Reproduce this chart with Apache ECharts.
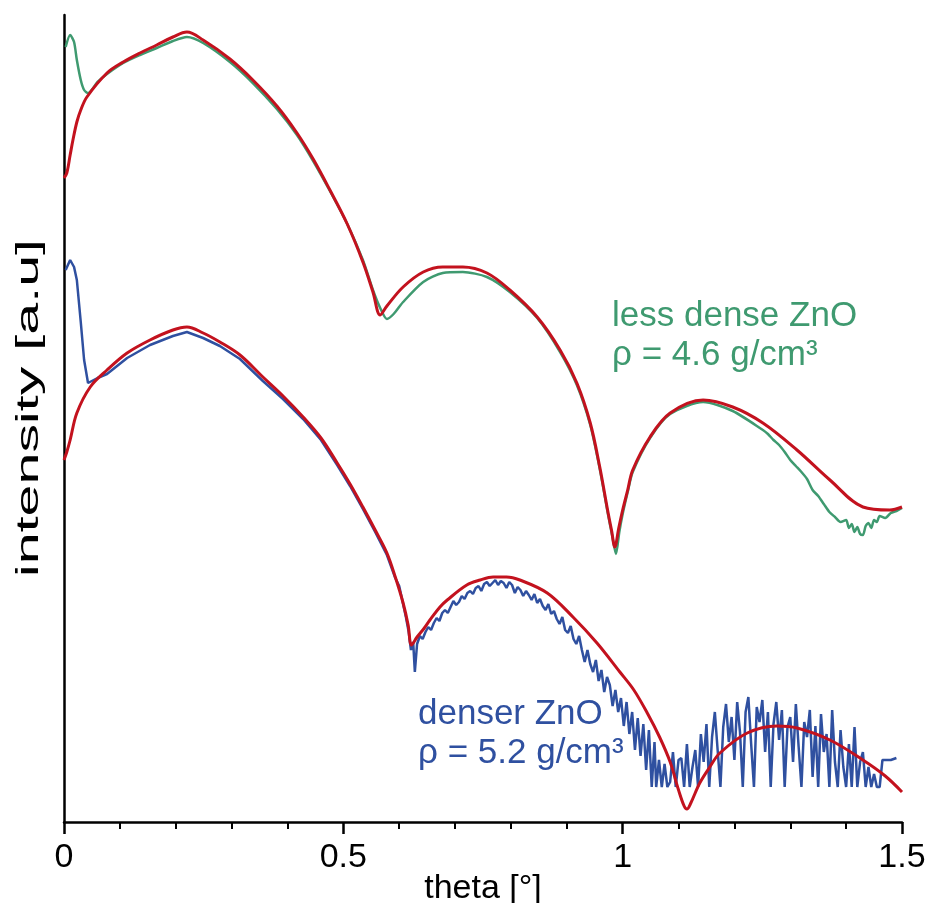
<!DOCTYPE html>
<html>
<head>
<meta charset="utf-8">
<title>ZnO reflectivity</title>
<script src="https://cdn.jsdelivr.net/npm/echarts@6/dist/echarts.min.js"></script>
<style>
  html, body { margin: 0; padding: 0; background: #fff; }
  #container { width: 927px; height: 903px; }
</style>
</head>
<body>
<div id="container"></div>
<script>
// less dense ZnO - measured (green)
var lessDenseTheta = [0.003, 0.011, 0.018, 0.023, 0.030, 0.036, 0.043, 0.060, 0.077, 0.106, 0.136, 0.166, 0.195, 0.220, 0.249, 0.297, 0.338, 0.381, 0.417, 0.446, 0.476, 0.507, 0.535, 0.553, 0.566, 0.578, 0.590, 0.607, 0.643, 0.678, 0.714, 0.757, 0.798, 0.847, 0.888, 0.918, 0.942, 0.959, 0.974, 0.981, 0.988, 0.994, 1.000, 1.009, 1.018, 1.049, 1.085, 1.144, 1.197, 1.251, 1.260, 1.270, 1.280, 1.290, 1.300, 1.310, 1.320, 1.330, 1.340, 1.350, 1.360, 1.370, 1.380, 1.390, 1.400, 1.405, 1.410, 1.415, 1.420, 1.425, 1.430, 1.435, 1.440, 1.445, 1.450, 1.455, 1.460, 1.470, 1.480, 1.490, 1.500];
var lessDenseMeas = [775, 787, 780, 762, 742, 732, 729, 740, 748, 759, 767, 774, 781, 785, 779, 760, 739, 713, 687, 661, 631, 598, 562, 532, 514, 503, 508, 520, 540, 549, 550, 545, 530, 504, 470, 437, 397, 353, 307, 287, 268, 290, 308, 330, 350, 384, 408, 420, 411, 392, 388, 382, 377, 370, 362, 356, 350, 343, 332, 326, 318, 310, 305, 300, 302, 294, 298, 290, 295, 288, 287, 296, 299, 294, 302, 300, 306, 304, 309, 311, 314];
// less dense ZnO - fit (red)
var lessDenseFitTheta = [0, 0.005, 0.011, 0.016, 0.023, 0.030, 0.041, 0.077, 0.106, 0.136, 0.166, 0.195, 0.220, 0.249, 0.297, 0.338, 0.381, 0.417, 0.446, 0.476, 0.507, 0.535, 0.553, 0.566, 0.578, 0.607, 0.643, 0.678, 0.714, 0.757, 0.798, 0.847, 0.888, 0.918, 0.942, 0.959, 0.974, 0.980, 0.986, 0.993, 1.000, 1.009, 1.018, 1.049, 1.085, 1.144, 1.197, 1.251, 1.312, 1.371, 1.430, 1.478, 1.500];
var lessDenseFit = [644, 649, 667, 682, 700, 712, 725, 749, 760, 769, 777, 785, 790, 782, 763, 742, 716, 689, 663, 632, 598, 560, 530, 507, 516, 535, 550, 555, 555, 549, 532, 505, 472, 439, 399, 355, 309, 292, 275, 294, 312, 332, 352, 385, 409, 422, 415, 399, 372, 342, 315, 312, 315];

// denser ZnO - measured (blue), smooth part
var denseTheta = [0.003, 0.011, 0.018, 0.023, 0.030, 0.036, 0.043, 0.060, 0.077, 0.113, 0.154, 0.195, 0.220, 0.249, 0.279, 0.315, 0.356, 0.392, 0.428, 0.460, 0.489, 0.512, 0.535, 0.557, 0.578, 0.593, 0.600, 0.607, 0.612, 0.617, 0.621, 0.625, 0.628];
var denseMeas = [552, 562, 555, 542, 500, 462, 439, 444, 448, 464, 477, 486, 490, 484, 476, 463, 441, 423, 403, 382, 357, 336, 313, 290, 267, 244, 236, 218, 205, 190, 172, 180, 150];
// denser ZnO - measured (blue), noisy part
var denseNoiseTheta = [
  0.632, 0.637, 0.642, 0.647, 0.652, 0.657, 0.662, 0.667, 0.672, 0.677,
  0.682, 0.687, 0.692, 0.697, 0.702, 0.707, 0.712, 0.717, 0.722, 0.727,
  0.732, 0.737, 0.742, 0.747, 0.752, 0.757, 0.762, 0.767, 0.772, 0.777,
  0.782, 0.787, 0.792, 0.797, 0.802, 0.807, 0.812, 0.817, 0.822, 0.827,
  0.832, 0.837, 0.842, 0.847, 0.852, 0.857, 0.862, 0.867, 0.872, 0.877,
  0.882, 0.887, 0.892, 0.897, 0.902, 0.907, 0.912, 0.917, 0.922, 0.927,
  0.932, 0.937, 0.942, 0.947, 0.952, 0.957, 0.962, 0.967, 0.972, 0.977,
  0.982, 0.987, 0.992, 0.997, 1.002, 1.007, 1.012, 1.017, 1.022, 1.027,
  1.032, 1.037, 1.042, 1.047, 1.052, 1.057,
  1.060, 1.065, 1.070, 1.075, 1.080, 1.085, 1.090, 1.095, 1.100, 1.105,
  1.110, 1.115, 1.120, 1.125, 1.130, 1.135, 1.140, 1.145, 1.150, 1.155,
  1.160, 1.165, 1.170, 1.175, 1.180, 1.185, 1.190, 1.195, 1.200, 1.205,
  1.210, 1.215, 1.220, 1.225, 1.230, 1.235, 1.240, 1.245, 1.250, 1.255,
  1.260, 1.265, 1.270, 1.275, 1.280, 1.285, 1.290, 1.295, 1.300, 1.305,
  1.310, 1.315, 1.320, 1.325, 1.330, 1.335, 1.340, 1.345, 1.350, 1.355,
  1.360, 1.365, 1.370, 1.375, 1.380, 1.385, 1.390, 1.395, 1.400, 1.405,
  1.410, 1.415, 1.420, 1.425, 1.430, 1.435, 1.440, 1.445, 1.450, 1.455,
  1.460, 1.465, 1.480, 1.490];
var denseNoise = [
  178, 186, 183, 190, 195, 192, 199, 204, 201, 209,
  212, 209, 215, 221, 217, 220, 226, 223, 229, 231,
  228, 234, 236, 231, 238, 240, 236, 239, 242, 237,
  241, 239, 234, 240, 237, 229, 235, 232, 226, 231,
  227, 222, 228, 219, 223, 216, 212, 218, 208, 211,
  203, 198, 205, 192, 189, 196, 183, 178, 186, 172,
  160, 172, 158, 150, 162, 141, 152, 130, 145, 137,
  116, 132, 110, 124, 96, 120, 88, 110, 72, 104,
  66, 98, 52, 92, 35, 80,
  35, 62, 35, 58, 35, 40, 70, 35, 62, 64,
  35, 78, 35, 55, 72, 35, 88, 60, 98, 35,
  85, 110, 72, 35, 95, 118, 80, 105, 62, 120,
  90, 35, 110, 125, 78, 35, 115, 100, 122, 70,
  110, 35, 98, 120, 82, 112, 35, 95, 105, 60,
  118, 75, 35, 100, 85, 112, 45, 96, 35, 108,
  70, 88, 35, 112, 60, 35, 92, 55, 35, 78,
  35, 95, 35, 60, 70, 35, 55, 35, 48, 35,
  35, 62, 62, 64];
// denser ZnO - fit (red)
var denseFitTheta = [0, 0.005, 0.011, 0.023, 0.047, 0.077, 0.113, 0.154, 0.195, 0.220, 0.249, 0.279, 0.315, 0.356, 0.392, 0.428, 0.460, 0.489, 0.512, 0.535, 0.557, 0.578, 0.593, 0.607, 0.616, 0.622, 0.632, 0.645, 0.655, 0.673, 0.686, 0.721, 0.745, 0.768, 0.792, 0.816, 0.865, 0.911, 0.954, 0.995, 1.020, 1.045, 1.066, 1.085, 1.100, 1.110, 1.115, 1.122, 1.138, 1.156, 1.174, 1.223, 1.276, 1.312, 1.371, 1.430, 1.470, 1.500];
var denseFit = [362, 370, 382, 409, 435, 452, 469, 482, 492, 495, 489, 480, 467, 445, 426, 405, 384, 359, 338, 315, 292, 269, 245, 219, 197, 177, 185, 194, 202, 215, 222, 237, 242, 245, 245, 242, 229, 205, 179, 150, 132, 108, 85, 60, 32, 16, 13, 19, 39, 55, 69, 89, 96, 94, 82, 62, 46, 30];

// x轴刻度
var xTicks = ['0', '0.5', '1', '1.5'];

var FONT = "'Liberation Sans', Arial, sans-serif";
var RED = '#c3121e';
var GREEN = '#3f9a70';
var BLUE = '#2f50a0';

// 两个数组合成点
function pairs(xs, ys) {
  var out = [];
  for (var i = 0; i < xs.length; i++) {
    out.push([xs[i], ys[i]]);
  }
  return out;
}

function lineSeries(name, data, color, width, smooth) {
  return {
    name: name,
    type: 'line',
    data: data,
    showSymbol: false,
    smooth: smooth,
    lineStyle: { color: color, width: width },
    itemStyle: { color: color },
    silent: true,
    animation: false
  };
}

var dom = document.getElementById('container');
var myChart = echarts.init(dom, null, { renderer: 'canvas' });

var option = {
  animation: false,
  backgroundColor: '#fff',
  grid: { left: 64, right: 25, top: 15, bottom: 81, containLabel: false, outerBoundsMode: 'none' },
  xAxis: {
    type: 'value',
    min: 0,
    max: 1.5,
    interval: 0.5,
    name: 'theta [°]',
    nameLocation: 'middle',
    nameGap: 50,
    nameMoveOverlap: false,
    nameTextStyle: { fontSize: 34, color: '#000', fontFamily: FONT },
    axisLine: { show: true, lineStyle: { color: '#000', width: 2.5 } },
    axisTick: { show: true, inside: false, length: 12, lineStyle: { color: '#000', width: 2.5 } },
    minorTick: { show: true, splitNumber: 5, length: 7, lineStyle: { color: '#000', width: 2 } },
    axisLabel: {
      fontSize: 34,
      color: '#000',
      fontFamily: FONT,
      margin: 19,
      formatter: function (v) {
        return xTicks[Math.round(v / 0.5)];
      }
    },
    splitLine: { show: false }
  },
  yAxis: {
    type: 'value',
    min: 0,
    max: 807,
    axisLine: { show: true, onZero: false, lineStyle: { color: '#000', width: 2.5 } },
    axisTick: { show: false },
    axisLabel: { show: false },
    splitLine: { show: false }
  },
  series: [
    lineSeries('less dense ZnO', pairs(lessDenseTheta, lessDenseMeas), GREEN, 2.5, 0.25),
    lineSeries('denser ZnO', pairs(denseTheta, denseMeas).concat(pairs(denseNoiseTheta, denseNoise)), BLUE, 2.5, false),
    lineSeries('fit less dense', pairs(lessDenseFitTheta, lessDenseFit), RED, 3, 0.35),
    lineSeries('fit denser', pairs(denseFitTheta, denseFit), RED, 3, 0.35)
  ],
  graphic: [
    {
      // y轴标题（原图纵向拉伸）
      type: 'text',
      x: 29,
      y: 408,
      rotation: Math.PI / 2,
      scaleX: 1.85,
      style: {
        text: 'intensity [a.u]',
        fontSize: 31,
        fontFamily: FONT,
        fill: '#000',
        align: 'center',
        verticalAlign: 'middle'
      }
    },
    {
      type: 'text',
      x: 612,
      y: 316,
      style: { text: 'less dense ZnO', fontSize: 35, fontFamily: FONT, fill: GREEN, verticalAlign: 'middle' }
    },
    {
      type: 'text',
      x: 612,
      y: 355,
      style: { text: 'ρ = 4.6 g/cm³', fontSize: 35, fontFamily: FONT, fill: GREEN, verticalAlign: 'middle' }
    },
    {
      type: 'text',
      x: 418,
      y: 714,
      style: { text: 'denser ZnO', fontSize: 35, fontFamily: FONT, fill: BLUE, verticalAlign: 'middle' }
    },
    {
      type: 'text',
      x: 418,
      y: 753,
      style: { text: 'ρ = 5.2 g/cm³', fontSize: 35, fontFamily: FONT, fill: BLUE, verticalAlign: 'middle' }
    }
  ]
};

myChart.setOption(option);
</script>
</body>
</html>
